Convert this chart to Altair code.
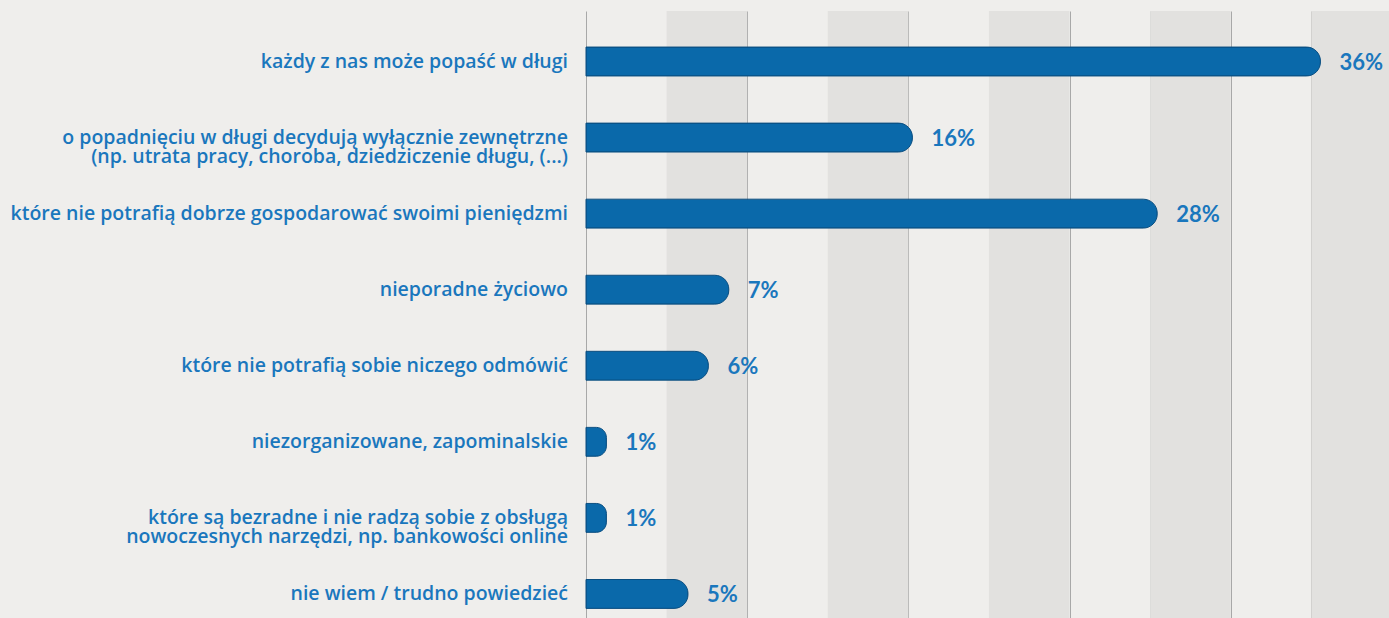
import altair as alt
import pandas as pd

categories = [
    "każdy z nas może popaść w długi",
    "o popadnięciu w długi decydują wyłącznie zewnętrzne\n(np. utrata pracy, choroba, dziedziczenie długu, (...)",
    "które nie potrafią dobrze gospodarować swoimi pieniędzmi",
    "nieporadne życiowo",
    "które nie potrafią sobie niczego odmówić",
    "niezorganizowane, zapominalskie",
    "które są bezradne i nie radzą sobie z obsługą\nnowoczesnych narzędzi, np. bankowości online",
    "nie wiem / trudno powiedzieć",
]
values = [36, 16, 28, 7, 6, 1, 1, 5]
value_labels = ["36%", "16%", "28%", "7%", "6%", "1%", "1%", "5%"]

# background column layout (in % units of the x scale)
grid_step = 3.95
x_max = 39.36
grid_lines = [round(i * grid_step, 2) for i in range(11)]
band_starts = [round(grid_step * (2 * i + 1), 2) for i in range(5)]
band_ends = [min(round(b + grid_step, 2), x_max) for b in band_starts]

df = pd.DataFrame({"cat": categories, "value": values, "label": value_labels})
bands = pd.DataFrame({"x": band_starts, "x2": band_ends})

W, H = 803, 607
BLUE_TEXT = "#1a77bd"
BAR = "#0a69aa"

xscale = alt.Scale(domain=[0, x_max], nice=False, zero=True)
yscale = alt.Scale(domain=categories, paddingInner=0.62, paddingOuter=0.3, align=0.79)

band_layer = alt.Chart(bands).mark_rect(color="#e2e1df").encode(
    x=alt.X("x:Q", scale=xscale,
            axis=alt.Axis(values=grid_lines, grid=True, gridColor="#a8a8a8", gridWidth=1,
                          labels=False, ticks=False, domain=False, title=None)),
    x2="x2:Q",
    y=alt.value(0),
    y2=alt.value(H),
)

bars = alt.Chart(df).mark_bar(
    color=BAR, cornerRadiusEnd=14, stroke="#0a4f82", strokeWidth=1
).encode(
    x=alt.X("value:Q", scale=xscale),
    y=alt.Y("cat:N", scale=yscale, axis=None, sort=categories),
)

val_text = alt.Chart(df).mark_text(
    align="left", baseline="middle", dx=19, dy=1, font="Lato", fontSize=22,
    fontWeight=700, color=BLUE_TEXT
).encode(
    x=alt.X("value:Q", scale=xscale),
    y=alt.Y("cat:N", scale=yscale, sort=categories),
    text="label:N",
)

cat_text = alt.Chart(df).mark_text(
    align="right", baseline="middle", font="Open Sans", fontSize=19.5, fontWeight=600,
    color=BLUE_TEXT, lineBreak="\n", lineHeight=19.5
).encode(
    x=alt.value(-18),
    y=alt.Y("cat:N", scale=yscale, sort=categories),
    text="cat:N",
)

chart = alt.layer(band_layer, bars, val_text, cat_text).properties(
    width=W, height=H,
    background="#efeeec",
    padding={"left": 586, "top": 11, "right": 0, "bottom": 0},
    autosize=alt.AutoSizeParams(type="none"),
).configure_view(stroke=None)

chart.save("out.html", embed_options={"renderer": "svg", "actions": False})
